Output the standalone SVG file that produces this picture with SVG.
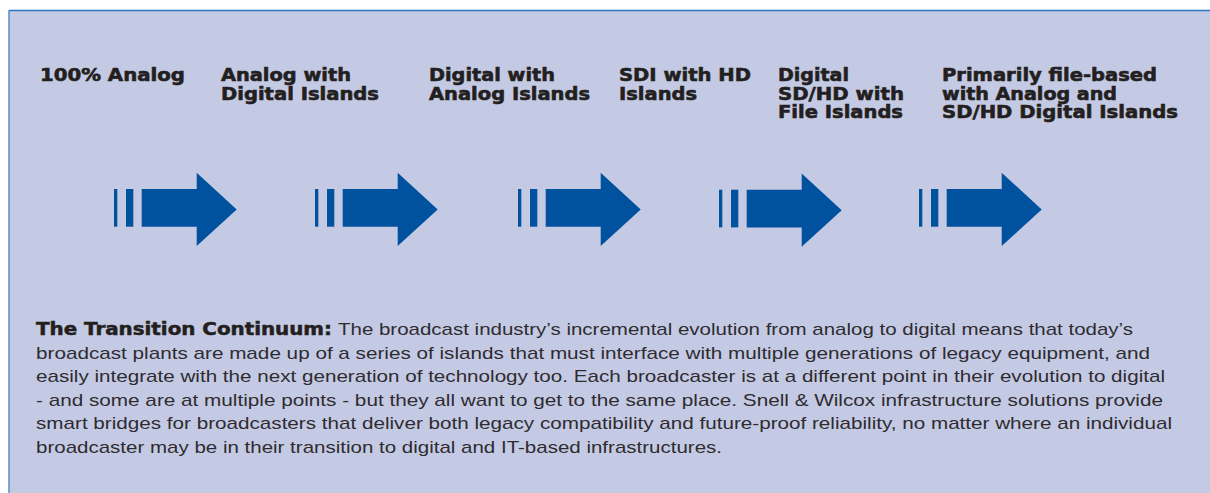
<svg xmlns="http://www.w3.org/2000/svg" width="1210" height="493" viewBox="0 0 1210 493">
<style>
.h{font-family:"DejaVu Sans","Liberation Sans",sans-serif;font-weight:bold;font-size:18px;fill:#231f20;stroke:#231f20;stroke-width:0.6px}
.p{font-family:"Liberation Sans","Noto Sans",sans-serif;font-size:17px;fill:#2e2c31}
.pb{font-family:"DejaVu Sans","Liberation Sans",sans-serif;font-weight:bold;font-size:17px;fill:#231f20;stroke:#231f20;stroke-width:0.5px}
.arr{fill:#00529f}
</style>
<defs>
<g id="barrow">
<rect x="0" y="189" width="3.3" height="37.7"/>
<rect x="12" y="189" width="7.3" height="37.7"/>
<path d="M27.7,189 H82.7 V172.7 L122.7,209.5 L82.7,246 V226.7 H27.7 Z"/>
</g>
</defs>
<rect x="0" y="0" width="1210" height="493" fill="#ffffff"/>
<rect x="9" y="10" width="1201" height="483" fill="#c5cae4"/>
<line x1="9" y1="10.5" x2="1210" y2="10.5" stroke="#2f74c0" stroke-width="1.5"/>
<line x1="9" y1="10" x2="9" y2="493" stroke="#5a8ccc" stroke-width="1.5"/>

<g id="stage1">
<text class="h" x="40" y="81" textLength="145" lengthAdjust="spacingAndGlyphs">100% Analog</text>
</g>
<g id="stage2">
<text class="h" x="221" y="81" textLength="130" lengthAdjust="spacingAndGlyphs">Analog with</text>
<text class="h" x="221" y="99.5" textLength="158" lengthAdjust="spacingAndGlyphs">Digital Islands</text>
</g>
<g id="stage3">
<text class="h" x="429" y="81" textLength="126" lengthAdjust="spacingAndGlyphs">Digital with</text>
<text class="h" x="429" y="99.5" textLength="161" lengthAdjust="spacingAndGlyphs">Analog Islands</text>
</g>
<g id="stage4">
<text class="h" x="619" y="81" textLength="132" lengthAdjust="spacingAndGlyphs">SDI with HD</text>
<text class="h" x="619" y="99.5" textLength="78" lengthAdjust="spacingAndGlyphs">Islands</text>
</g>
<g id="stage5">
<text class="h" x="778" y="81" textLength="71" lengthAdjust="spacingAndGlyphs">Digital</text>
<text class="h" x="778" y="99.5" textLength="126" lengthAdjust="spacingAndGlyphs">SD/HD with</text>
<text class="h" x="778" y="118" textLength="125" lengthAdjust="spacingAndGlyphs">File Islands</text>
</g>
<g id="stage6">
<text class="h" x="942" y="81" textLength="215" lengthAdjust="spacingAndGlyphs">Primarily file-based</text>
<text class="h" x="942" y="99.5" textLength="175" lengthAdjust="spacingAndGlyphs">with Analog and</text>
<text class="h" x="942" y="118" textLength="236" lengthAdjust="spacingAndGlyphs">SD/HD Digital Islands</text>
</g>

<g id="connectors" class="arr">
<use href="#barrow" transform="translate(114,0)"/>
<use href="#barrow" transform="translate(315,0)"/>
<use href="#barrow" transform="translate(518,0)"/>
<use href="#barrow" transform="translate(719,0.7)"/>
<use href="#barrow" transform="translate(919,0)"/>
</g>

<g id="caption">
<text class="pb" x="36" y="335" textLength="296" lengthAdjust="spacingAndGlyphs">The Transition Continuum:</text>
<text class="p" x="338" y="335" textLength="795" lengthAdjust="spacingAndGlyphs">The broadcast industry’s incremental evolution from analog to digital means that today’s</text>
<text class="p" x="36" y="358.5" textLength="1114" lengthAdjust="spacingAndGlyphs">broadcast plants are made up of a series of islands that must interface with multiple generations of legacy equipment, and</text>
<text class="p" x="36" y="382" textLength="1129" lengthAdjust="spacingAndGlyphs">easily integrate with the next generation of technology too. Each broadcaster is at a different point in their evolution to digital</text>
<text class="p" x="36" y="405.5" textLength="1127" lengthAdjust="spacingAndGlyphs">- and some are at multiple points - but they all want to get to the same place. Snell &amp; Wilcox infrastructure solutions provide</text>
<text class="p" x="36" y="429" textLength="1136" lengthAdjust="spacingAndGlyphs">smart bridges for broadcasters that deliver both legacy compatibility and future-proof reliability, no matter where an individual</text>
<text class="p" x="36" y="452.5" textLength="686" lengthAdjust="spacingAndGlyphs">broadcaster may be in their transition to digital and IT-based infrastructures.</text>
</g>
</svg>
